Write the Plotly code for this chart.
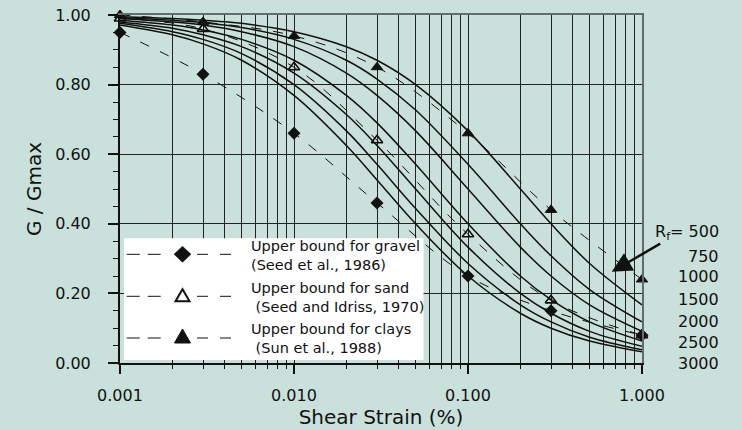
import plotly.graph_objects as go
import math

# ---------------- data ----------------
strain = [0.001, 0.003, 0.01, 0.03, 0.1, 0.3, 1.0]
gravel = [0.95, 0.83, 0.66, 0.46, 0.25, 0.15, 0.08]
sand = [0.99, 0.96, 0.85, 0.64, 0.37, 0.18, 0.08]
clay = [1.00, 0.98, 0.94, 0.85, 0.66, 0.44, 0.24]

curve_strain = [0.001, 0.002, 0.003, 0.005, 0.01, 0.02, 0.03, 0.05, 0.1, 0.2, 0.3, 0.5, 1.0]
rf_values = [500, 750, 1000, 1500, 2000, 2500, 3000]
rf500 = [0.995, 0.990, 0.985, 0.976, 0.952, 0.909, 0.870, 0.800, 0.667, 0.500, 0.400, 0.286, 0.167]
rf750 = [0.993, 0.985, 0.978, 0.964, 0.930, 0.870, 0.816, 0.727, 0.571, 0.400, 0.308, 0.211, 0.118]
rf1000 = [0.990, 0.980, 0.971, 0.952, 0.909, 0.833, 0.769, 0.667, 0.500, 0.333, 0.250, 0.167, 0.091]
rf1500 = [0.985, 0.971, 0.957, 0.930, 0.870, 0.769, 0.690, 0.571, 0.400, 0.250, 0.182, 0.118, 0.063]
rf2000 = [0.980, 0.962, 0.943, 0.909, 0.833, 0.714, 0.625, 0.500, 0.333, 0.200, 0.143, 0.091, 0.048]
rf2500 = [0.976, 0.952, 0.930, 0.889, 0.800, 0.667, 0.571, 0.444, 0.286, 0.167, 0.118, 0.074, 0.038]
rf3000 = [0.971, 0.943, 0.917, 0.870, 0.769, 0.625, 0.526, 0.400, 0.250, 0.143, 0.100, 0.063, 0.032]
rf_curves = [rf500, rf750, rf1000, rf1500, rf2000, rf2500, rf3000]

x_tickvals = [0.001, 0.01, 0.1, 1.0]
x_ticktext = ["0.001", "0.010", "0.100", "1.000"]

legend_labels = [
    "Upper bound for gravel<br>(Seed et al., 1986)",
    "Upper bound for sand<br>\u00a0(Seed and Idriss, 1970)",
    "Upper bound for clays<br>\u00a0(Sun et al., 1988)",
]

# ---------------- style ----------------
BG = "#C9E1DA"
INK = "#111111"
GRID = "#222222"
FRAME = "#5F6E6A"
FONT = "DejaVu Sans"

fig = go.Figure()

for vals in rf_curves:
    fig.add_trace(go.Scatter(x=curve_strain, y=vals, mode="lines",
                             line=dict(color=INK, width=1.5, shape="spline"),
                             showlegend=False, hoverinfo="skip"))

series = [
    (gravel, dict(symbol="diamond", size=10, color=INK)),
    (sand, dict(symbol="triangle-up-open", size=10, color=INK, line=dict(width=1.6, color=INK))),
    (clay, dict(symbol="triangle-up", size=10, color=INK, line=dict(width=1, color=INK))),
]
for vals, mk in series:
    fig.add_trace(go.Scatter(x=strain, y=vals, mode="lines",
                             line=dict(color=INK, width=1, dash="10px,12px", shape="spline"),
                             showlegend=False, hoverinfo="skip"))
for vals, mk in series:
    fig.add_trace(go.Scatter(x=strain, y=vals, mode="markers", marker=mk,
                             cliponaxis=False, showlegend=False))

# dummy trace for the gray top/right frame axes
fig.add_trace(go.Scatter(x=[], y=[], xaxis="x2", yaxis="y2", showlegend=False))

minor_vals = [m * 10 ** e for e in (-3, -2, -1) for m in range(2, 10)]

# ---------------- layout geometry ----------------
L, R, T, B = 120, 100, 15, 67
W, H = 742, 430
PW, PH = W - L - R, H - T - B


def px(X):
    return (X - L) / PW


def py(Y):
    return (H - B - Y) / PH


shapes = []
annotations = []

# custom legend box
shapes.append(dict(type="rect", xref="paper", yref="paper",
                   x0=px(124), x1=px(423.5), y0=py(360), y1=py(238.3),
                   fillcolor="white", line=dict(width=0), layer="above"))
leg_rows = [254.3, 296.3, 338.0]
text_rows = [255.0, 297.0, 338.8]
mk_paths = [
    ("M-8.5,0 L0,8 L8.5,0 L0,-8 Z", INK, 0),
    ("M-7,-5 L7,-5 L0,7 Z", "white", 2),
    ("M-8,-5 L8,-5 L0,9 Z", INK, 1),
]
for yrow, (path, fill, lw) in zip(leg_rows, mk_paths):
    shapes.append(dict(type="line", xref="paper", yref="paper",
                       x0=px(126.7), x1=px(162), y0=py(yrow), y1=py(yrow),
                       line=dict(color=INK, width=1, dash="13px,8px"), layer="above"))
    shapes.append(dict(type="line", xref="paper", yref="paper",
                       x0=px(197), x1=px(232), y0=py(yrow), y1=py(yrow),
                       line=dict(color=INK, width=1, dash="11px,12px"), layer="above"))
    shapes.append(dict(type="path", xref="paper", yref="paper",
                       xsizemode="pixel", ysizemode="pixel",
                       xanchor=px(182.5), yanchor=py(yrow), path=path,
                       fillcolor=fill, line=dict(color=INK, width=max(lw, 0.5)),
                       layer="above"))
for yrow, txt in zip(text_rows, legend_labels):
    annotations.append(dict(xref="paper", yref="paper", x=px(249), y=py(yrow),
                            xanchor="left", yanchor="middle", align="left",
                            text=txt, showarrow=False,
                            font=dict(family=FONT, size=14.5, color=INK)))

# R_f labels
rf_label_y = [232.3, 256.7, 276.7, 299.3, 321.0, 342.7, 364.0]
for i, (rf, yl) in enumerate(zip(rf_values, rf_label_y)):
    txt = f"R<sub>f</sub>= {rf}" if i == 0 else str(rf)
    annotations.append(dict(xref="paper", yref="paper", x=px(721), y=py(yl),
                            xanchor="right", yanchor="middle", text=txt,
                            showarrow=False,
                            font=dict(family=FONT, size=16, color=INK)))

# arrow pointing to the R_f = 500 curve
annotations.append(dict(x=math.log10(0.67), y=0.262, xref="x", yref="y",
                        text="", showarrow=True, arrowhead=2, arrowsize=1.6,
                        arrowwidth=2.5, arrowcolor=INK, ax=50, ay=-29,
                        standoff=0))

fig.update_layout(
    width=W, height=H,
    margin=dict(l=L, r=R, t=T, b=B, autoexpand=False),
    paper_bgcolor=BG, plot_bgcolor=BG,
    showlegend=False,
    font=dict(family=FONT, color=INK),
    shapes=shapes, annotations=annotations,
    xaxis=dict(type="log", range=[-3, 0], tickvals=x_tickvals, ticktext=x_ticktext,
               automargin=False,
               ticks="outside", ticklen=9, tickwidth=1.5, tickcolor=INK,
               ticklabelstandoff=8,
               showline=True, linecolor=INK, linewidth=2,
               showgrid=True, gridcolor=GRID, gridwidth=1, zeroline=False,
               minor=dict(tickvals=minor_vals, ticks="outside", ticklen=4,
                          tickwidth=1.2, tickcolor=INK, showgrid=True,
                          gridcolor=GRID, gridwidth=1),
               tickfont=dict(family=FONT, size=16, color=INK),
               title=dict(text="Shear Strain (%)", standoff=4,
                          font=dict(family=FONT, size=20, color=INK))),
    yaxis=dict(range=[0, 1], dtick=0.2, tick0=0, tickformat=".2f",
               automargin=False,
               ticks="outside", ticklen=10, tickwidth=1.5, tickcolor=INK,
               ticklabelstandoff=14,
               showline=True, linecolor=INK, linewidth=2,
               showgrid=True, gridcolor=GRID, gridwidth=1, zeroline=False,
               minor=dict(dtick=0.05, ticks="outside", ticklen=5, tickwidth=1.2,
                          tickcolor=INK, showgrid=False),
               tickfont=dict(family=FONT, size=16, color=INK),
               title=dict(text="G / Gmax", standoff=8,
                          font=dict(family=FONT, size=20, color=INK))),
    xaxis2=dict(overlaying="x", side="top", range=[0, 1], showline=True,
                linecolor=FRAME, linewidth=1.5, showticklabels=False,
                ticks="", showgrid=False, zeroline=False),
    yaxis2=dict(overlaying="y", side="right", range=[0, 1], showline=True,
                linecolor=FRAME, linewidth=1.5, showticklabels=False,
                ticks="", showgrid=False, zeroline=False),
)

fig.write_html("out.html")
